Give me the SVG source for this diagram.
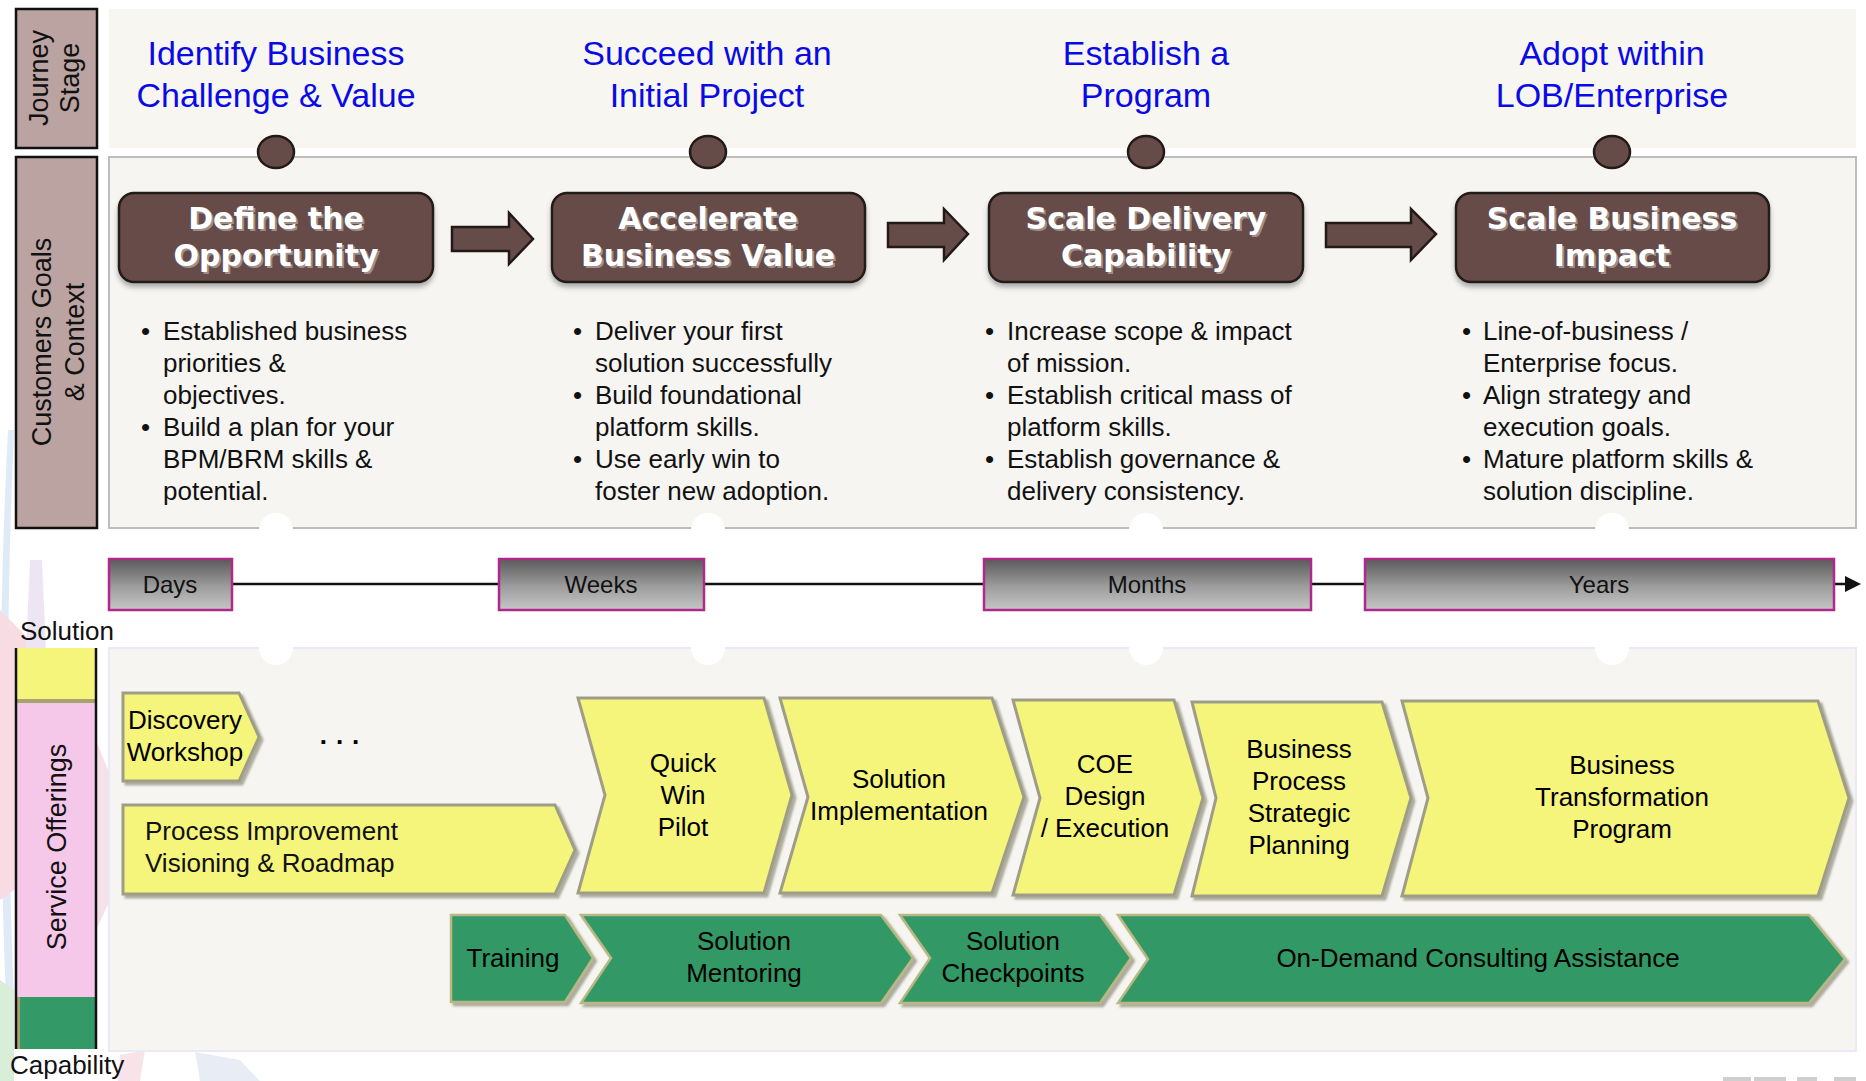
<svg xmlns="http://www.w3.org/2000/svg" width="1866" height="1081" viewBox="0 0 1866 1081">
<style>
text{font-family:"Liberation Sans",Arial,sans-serif}
.hd{font-size:34px;fill:#0a0ae6;text-anchor:middle}
.bt{font-size:26px;fill:#111}
.bx{font-family:"DejaVu Sans",sans-serif;font-weight:bold;font-size:30px;text-anchor:middle}
.bxw{fill:#fff}
.bxs{fill:#9d8f8c}
.tl{font-size:24px;fill:#111;text-anchor:middle}
.ch{font-size:26px;fill:#000;text-anchor:middle}
.side{font-size:27px;fill:#111;text-anchor:middle}
.brown{fill:#664c48;stroke:#231a18;stroke-width:2.5}
.yel{fill:#f5f57c;stroke:#9e9e88;stroke-width:3}
.grn{fill:#339966;stroke:#b9b883;stroke-width:2.5}
.tbox{fill:url(#tg);stroke:#b0288c;stroke-width:2.5}
</style>
<defs>
<linearGradient id="tg" x1="0" y1="0" x2="0" y2="1">
<stop offset="0" stop-color="#5a5a5a"/>
<stop offset="0.55" stop-color="#9e9e9e"/>
<stop offset="1" stop-color="#c6c6c6"/>
</linearGradient>
<filter id="sh" x="-5%" y="-5%" width="115%" height="120%">
<feDropShadow dx="3" dy="3" stdDeviation="1.2" flood-color="#6e6e5a" flood-opacity="0.55"/>
</filter>
<filter id="bsh" x="-5%" y="-5%" width="110%" height="125%">
<feDropShadow dx="0" dy="4" stdDeviation="2.5" flood-color="#555" flood-opacity="0.45"/>
</filter>
</defs>
<rect width="1866" height="1081" fill="#fff"/>
<g id="watermark" opacity="0.25">
<path d="M14 430 Q2 700 14 1000 L6 1000 Q-6 700 8 430 Z" fill="#7fb0dc"/>
<path d="M0 610 L30 640 L28 880 L0 900 Z" fill="#e07a92"/>
<path d="M30 560 L42 560 L46 650 L26 650 Z" fill="#b9a0cf"/>
<path d="M96 740 L112 780 L110 900 L96 930 Z" fill="#d88aa8"/>
<path d="M0 980 L14 990 L14 1081 L0 1081 Z" fill="#6cbf6c"/>
<path d="M120 1055 L145 1050 L140 1081 L118 1081 Z" fill="#e693aa"/>
<path d="M195 1052 L240 1060 L260 1081 L200 1081 Z" fill="#a8b8d8"/>
</g>
<g id="ibm-logo" fill="#cfcfcf">
<rect x="1723" y="1077" width="28" height="4"/>
<rect x="1754" y="1077" width="32" height="4"/>
<rect x="1797" y="1077" width="20" height="4"/>
<rect x="1834" y="1077" width="22" height="4"/>
</g>
<g id="panels">
<rect x="109" y="9" width="1747" height="139" fill="#f7f6f0"/>
<rect x="109" y="157" width="1747" height="371" fill="#f6f5f2" stroke="#bdbdbd" stroke-width="2"/>
<rect x="109" y="648" width="1747" height="403" fill="#f6f5f1" stroke="#e9e9f7" stroke-width="2"/>
<g fill="#fff">
<circle cx="276" cy="530" r="17"/><circle cx="708" cy="530" r="17"/><circle cx="1146" cy="530" r="17"/><circle cx="1612" cy="530" r="17"/>
<circle cx="276" cy="648" r="17"/><circle cx="708" cy="648" r="17"/><circle cx="1146" cy="648" r="17"/><circle cx="1612" cy="648" r="17"/>
</g>
</g>
<g id="lane-journey">
<rect x="16" y="9" width="81" height="139" fill="#bba3a2" stroke="#111" stroke-width="2.5"/>
<text class="side" transform="translate(48,78) rotate(-90)"><tspan x="0" y="0">Journey</tspan><tspan x="0" y="31">Stage</tspan></text>
</g>
<g id="lane-customers">
<rect x="16" y="157" width="81" height="371" fill="#bba3a2" stroke="#111" stroke-width="2.5"/>
<text class="side" transform="translate(51,342) rotate(-90)"><tspan x="0" y="0">Customers Goals</tspan><tspan x="0" y="33">&amp; Context</tspan></text>
</g>
<g id="lane-service">
<rect x="16" y="648" width="80" height="54" fill="#f5f57c"/>
<rect x="16" y="699" width="80" height="4" fill="#a8a470"/>
<rect x="16" y="703" width="80" height="294" fill="#f5c8ea"/>
<rect x="16" y="997" width="80" height="52" fill="#339966"/>
<rect x="16" y="997" width="4" height="52" fill="#a8a470"/>
<line x1="16" y1="648" x2="16" y2="1049" stroke="#111" stroke-width="2.5"/>
<line x1="96" y1="648" x2="96" y2="1049" stroke="#111" stroke-width="2.5"/>
<text class="side" transform="translate(66,847) rotate(-90)">Service Offerings</text>
<text class="bt" x="20" y="640">Solution</text>
<text class="bt" x="10" y="1074">Capability</text>
</g>
<g id="stage-1">
<text class="hd" x="276" y="65">Identify Business</text>
<text class="hd" x="276" y="107">Challenge &amp; Value</text>
<ellipse cx="276" cy="152" rx="18" ry="16" class="brown"/>
</g>
<g id="stage-2">
<text class="hd" x="707" y="65">Succeed with an</text>
<text class="hd" x="707" y="107">Initial Project</text>
<ellipse cx="708" cy="152" rx="18" ry="16" class="brown"/>
</g>
<g id="stage-3">
<text class="hd" x="1146" y="65">Establish a</text>
<text class="hd" x="1146" y="107">Program</text>
<ellipse cx="1146" cy="152" rx="18" ry="16" class="brown"/>
</g>
<g id="stage-4">
<text class="hd" x="1612" y="65">Adopt within</text>
<text class="hd" x="1612" y="107">LOB/Enterprise</text>
<ellipse cx="1612" cy="152" rx="18" ry="16" class="brown"/>
</g>
<g id="goal-define">
<rect x="119" y="193" width="314" height="89" rx="15" class="brown" filter="url(#bsh)"/>
<text class="bx bxs" x="278" y="231">Define the</text><text class="bx bxs" x="278" y="268">Opportunity</text>
<text class="bx bxw" x="276" y="229">Define the</text><text class="bx bxw" x="276" y="266">Opportunity</text>
</g>
<g id="goal-accelerate">
<rect x="552" y="193" width="313" height="89" rx="15" class="brown" filter="url(#bsh)"/>
<text class="bx bxs" x="710" y="231">Accelerate</text><text class="bx bxs" x="710" y="268">Business Value</text>
<text class="bx bxw" x="708" y="229">Accelerate</text><text class="bx bxw" x="708" y="266">Business Value</text>
</g>
<g id="goal-scale-delivery">
<rect x="989" y="193" width="314" height="89" rx="15" class="brown" filter="url(#bsh)"/>
<text class="bx bxs" x="1148" y="231">Scale Delivery</text><text class="bx bxs" x="1148" y="268">Capability</text>
<text class="bx bxw" x="1146" y="229">Scale Delivery</text><text class="bx bxw" x="1146" y="266">Capability</text>
</g>
<g id="goal-scale-business">
<rect x="1456" y="193" width="313" height="89" rx="15" class="brown" filter="url(#bsh)"/>
<text class="bx bxs" x="1614" y="231">Scale Business</text><text class="bx bxs" x="1614" y="268">Impact</text>
<text class="bx bxw" x="1612" y="229">Scale Business</text><text class="bx bxw" x="1612" y="266">Impact</text>
</g>
<g id="connectors">
<polygon class="brown" stroke-width="2" points="452,227 509,227 509,213 533,239 509,264 509,251 452,251"/>
<polygon class="brown" stroke-width="2" points="888,223 944,223 944,209 968,234 944,260 944,247 888,247"/>
<polygon class="brown" stroke-width="2" points="1326,223 1411,223 1411,209 1436,234 1411,260 1411,247 1326,247"/>
<line x1="232" y1="584" x2="1848" y2="584" stroke="#111" stroke-width="2.5"/>
<polygon points="1845,576 1861,584 1845,592" fill="#111"/>
</g>
<g id="context-1" class="bt">
<text x="141" y="340">•</text><text x="163" y="340">Established business</text>
<text x="163" y="372">priorities &amp;</text>
<text x="163" y="404">objectives.</text>
<text x="141" y="436">•</text><text x="163" y="436">Build a plan for your</text>
<text x="163" y="468">BPM/BRM skills &amp;</text>
<text x="163" y="500">potential.</text>
</g>
<g id="context-2" class="bt">
<text x="573" y="340">•</text><text x="595" y="340">Deliver your first</text>
<text x="595" y="372">solution successfully</text>
<text x="573" y="404">•</text><text x="595" y="404">Build foundational</text>
<text x="595" y="436">platform skills.</text>
<text x="573" y="468">•</text><text x="595" y="468">Use early win to</text>
<text x="595" y="500">foster new adoption.</text>
</g>
<g id="context-3" class="bt">
<text x="985" y="340">•</text><text x="1007" y="340">Increase scope &amp; impact</text>
<text x="1007" y="372">of mission.</text>
<text x="985" y="404">•</text><text x="1007" y="404">Establish critical mass of</text>
<text x="1007" y="436">platform skills.</text>
<text x="985" y="468">•</text><text x="1007" y="468">Establish governance &amp;</text>
<text x="1007" y="500">delivery consistency.</text>
</g>
<g id="context-4" class="bt">
<text x="1462" y="340">•</text><text x="1483" y="340">Line-of-business /</text>
<text x="1483" y="372">Enterprise focus.</text>
<text x="1462" y="404">•</text><text x="1483" y="404">Align strategy and</text>
<text x="1483" y="436">execution goals.</text>
<text x="1462" y="468">•</text><text x="1483" y="468">Mature platform skills &amp;</text>
<text x="1483" y="500">solution discipline.</text>
</g>
<g id="time-days"><rect x="109" y="559" width="123" height="51" class="tbox"/><text class="tl" x="170" y="593">Days</text></g>
<g id="time-weeks"><rect x="499" y="559" width="205" height="51" class="tbox"/><text class="tl" x="601" y="593">Weeks</text></g>
<g id="time-months"><rect x="984" y="559" width="327" height="51" class="tbox"/><text class="tl" x="1147" y="593">Months</text></g>
<g id="time-years"><rect x="1365" y="559" width="469" height="51" class="tbox"/><text class="tl" x="1599" y="593">Years</text></g>
<g id="svc-discovery">
<polygon class="yel" filter="url(#sh)" points="123,693 239,693 259,737 239,781 123,781"/>
<text class="ch" x="185" y="729">Discovery</text><text class="ch" x="185" y="761">Workshop</text>
</g>
<g id="svc-ellipsis"><text class="ch" x="344" y="744" font-weight="bold" font-size="28" letter-spacing="9">...</text></g>
<g id="svc-process">
<polygon class="yel" filter="url(#sh)" points="123,805 555,805 575,850 555,894 123,894"/>
<text class="bt" x="145" y="840">Process Improvement</text><text class="bt" x="145" y="872">Visioning &amp; Roadmap</text>
</g>
<g id="svc-quickwin">
<polygon class="yel" filter="url(#sh)" points="578,698 764,698 792,795 764,893 578,893 605,795"/>
<text class="ch" x="683" y="772">Quick</text><text class="ch" x="683" y="804">Win</text><text class="ch" x="683" y="836">Pilot</text>
</g>
<g id="svc-implementation">
<polygon class="yel" filter="url(#sh)" points="780,698 992,698 1024,797 992,893 780,893 808,797"/>
<text class="ch" x="899" y="788">Solution</text><text class="ch" x="899" y="820">Implementation</text>
</g>
<g id="svc-coe">
<polygon class="yel" filter="url(#sh)" points="1013,700 1174,700 1203,798 1174,895 1013,895 1040,798"/>
<text class="ch" x="1105" y="773">COE</text><text class="ch" x="1105" y="805">Design</text><text class="ch" x="1105" y="837">/ Execution</text>
</g>
<g id="svc-bpsp">
<polygon class="yel" filter="url(#sh)" points="1192,702 1382,702 1411,798 1382,896 1192,896 1216,798"/>
<text class="ch" x="1299" y="758">Business</text><text class="ch" x="1299" y="790">Process</text><text class="ch" x="1299" y="822">Strategic</text><text class="ch" x="1299" y="854">Planning</text>
</g>
<g id="svc-transformation">
<polygon class="yel" filter="url(#sh)" points="1402,701 1818,701 1849,798 1818,896 1402,896 1428,798"/>
<text class="ch" x="1622" y="774">Business</text><text class="ch" x="1622" y="806">Transformation</text><text class="ch" x="1622" y="838">Program</text>
</g>
<g id="cap-training">
<polygon class="grn" filter="url(#sh)" points="451,915 565,915 593,958 565,1002 451,1002"/>
<text class="ch" x="513" y="967">Training</text>
</g>
<g id="cap-mentoring">
<polygon class="grn" filter="url(#sh)" points="581,915 881,915 913,958 881,1003 581,1003 611,958"/>
<text class="ch" x="744" y="950">Solution</text><text class="ch" x="744" y="982">Mentoring</text>
</g>
<g id="cap-checkpoints">
<polygon class="grn" filter="url(#sh)" points="900,915 1100,915 1131,958 1100,1003 900,1003 930,958"/>
<text class="ch" x="1013" y="950">Solution</text><text class="ch" x="1013" y="982">Checkpoints</text>
</g>
<g id="cap-ondemand">
<polygon class="grn" filter="url(#sh)" points="1118,915 1809,915 1845,959 1809,1003 1118,1003 1148,959"/>
<text class="ch" x="1478" y="967">On-Demand Consulting Assistance</text>
</g>
</svg>
